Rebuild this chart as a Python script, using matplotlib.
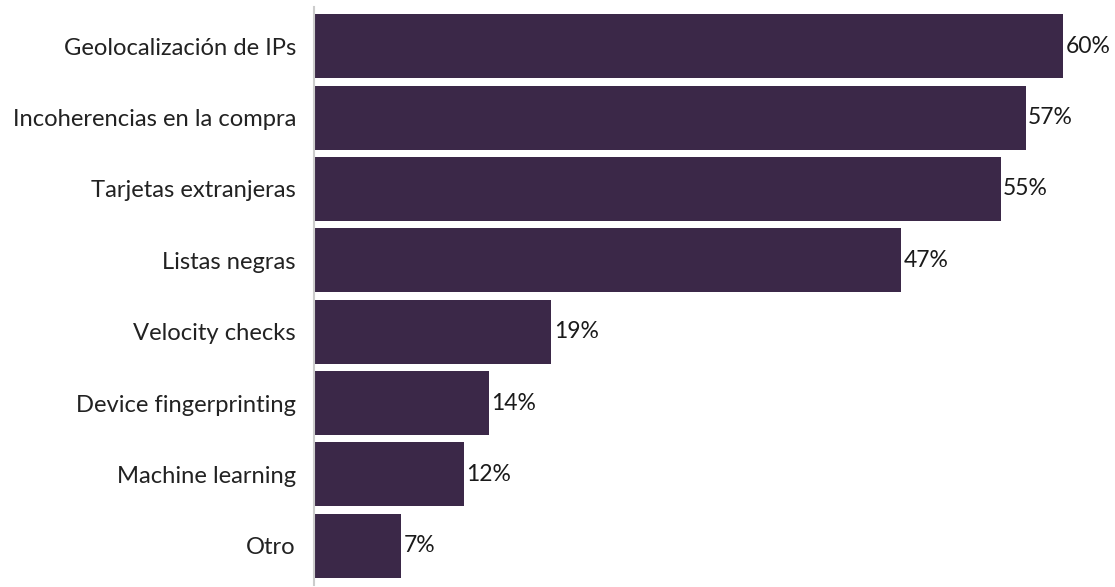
import matplotlib.pyplot as plt

categorias = ["Geolocalización de IPs", "Incoherencias en la compra", "Tarjetas extranjeras",
              "Listas negras", "Velocity checks", "Device fingerprinting",
              "Machine learning", "Otro"]
valores = [60, 57, 55, 47, 19, 14, 12, 7]
etiquetas = ["60%", "57%", "55%", "47%", "19%", "14%", "12%", "7%"]

plt.rcParams['font.family'] = ['Lato', 'DejaVu Sans']

fig = plt.figure(figsize=(11.15, 5.87), dpi=100)
# axes area: from y=7 down to bottom edge (pixels)
ax = fig.add_axes([0.2816, 0.0034, 0.7166, 0.9847])

pos = list(range(len(categorias)))
bars = ax.barh(pos, valores, height=0.895, color='#3b2848')

for b, txt in zip(bars, etiquetas):
    ax.text(b.get_width() + 0.2, b.get_y() + b.get_height() / 2, txt,
            va='center', ha='left', fontsize=16.5, color='#1a1a1a')

ax.set_yticks(pos)
ax.set_yticklabels(categorias, fontsize=17.1, color='#222222')
ax.tick_params(axis='y', length=0, pad=13)
ax.set_ylim(len(categorias) - 0.45, -0.55)
ax.set_xlim(0, 64)
ax.set_xticks([])

for s in ['top', 'right', 'bottom']:
    ax.spines[s].set_visible(False)
ax.spines['left'].set_color('#cccccc')
ax.spines['left'].set_linewidth(1.5)

fig.savefig('out.png', dpi=100)
